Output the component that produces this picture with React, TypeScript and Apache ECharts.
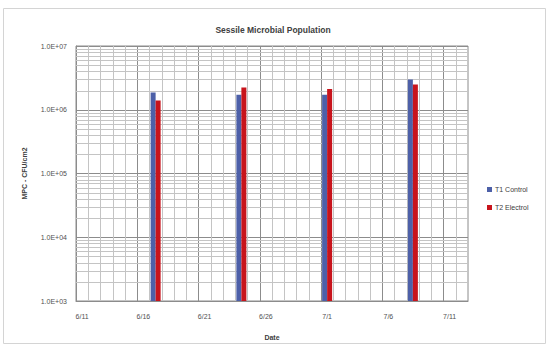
import React, { useEffect, useRef } from "react";
import * as echarts from "echarts";

const dayCategories = [
  "6/11", "6/12", "6/13", "6/14", "6/15", "6/16", "6/17", "6/18", "6/19", "6/20",
  "6/21", "6/22", "6/23", "6/24", "6/25", "6/26", "6/27", "6/28", "6/29", "6/30",
  "7/1", "7/2", "7/3", "7/4", "7/5", "7/6", "7/7", "7/8", "7/9", "7/10",
  "7/11", "7/12",
];
const sampleDates = ["6/17", "6/24", "7/1", "7/8"];
const controlValues = [1.87e6, 1.72e6, 1.72e6, 2.97e6];
const electrolValues = [1.4e6, 2.24e6, 2.12e6, 2.48e6];
const seriesNames = ["T1 Control", "T2 Electrol"];
const minorGridValues = [
  2e3, 3e3, 4e3, 5e3, 6e3, 7e3, 8e3, 9e3,
  2e4, 3e4, 4e4, 5e4, 6e4, 7e4, 8e4, 9e4,
  2e5, 3e5, 4e5, 5e5, 6e5, 7e5, 8e5, 9e5,
  2e6, 3e6, 4e6, 5e6, 6e6, 7e6, 8e6, 9e6,
];

const FONT = "Liberation Sans";

function toSeries(values: number[]) {
  return dayCategories.map((d) => {
    const i = sampleDates.indexOf(d);
    return i >= 0 ? values[i] : null;
  });
}

function fmtExp(v: number) {
  const e = Math.round(Math.log10(v));
  return "1.0E+" + (e < 10 ? "0" + e : String(e));
}

export default function App() {
  const ref = useRef<HTMLDivElement>(null);
  useEffect(() => {
    if (!ref.current) return;
    const chart = echarts.init(ref.current, undefined, { renderer: "svg" });
    chart.setOption({
      animation: false,
      backgroundColor: "#ffffff",
      title: {
        text: "Sessile Microbial Population",
        left: 268,
        textAlign: "center",
        top: 20,
        textStyle: { fontFamily: FONT, fontSize: 8.5, fontWeight: "bold", color: "#404040" },
      },
      graphic: [
        {
          type: "rect",
          shape: { x: 3.5, y: 8.5, width: 542, height: 335 },
          style: { fill: "none", stroke: "#d4d4d4", lineWidth: 1 },
          silent: true,
          z: -1,
        },
      ],
      legend: {
        orient: "vertical",
        left: 482,
        top: 181,
        icon: "rect",
        itemWidth: 5,
        itemHeight: 5,
        itemGap: 11,
        data: seriesNames,
        textStyle: { fontFamily: FONT, fontSize: 7, color: "#404040", padding: [0, 0, 0, -2] },
      },
      grid: {
        left: 76,
        top: 46,
        width: 392,
        height: 255,
        show: true,
        borderColor: "#8c8c8c",
        borderWidth: 1,
      },
      xAxis: {
        type: "category",
        data: dayCategories,
        boundaryGap: true,
        name: "Date",
        nameLocation: "middle",
        nameGap: 33,
        nameTextStyle: { fontFamily: FONT, fontSize: 7, fontWeight: "bold", color: "#404040" },
        axisLine: { show: true, lineStyle: { color: "#8c8c8c" } },
        axisTick: { show: false },
        axisLabel: {
          interval: 4,
          margin: 12,
          fontFamily: FONT,
          fontSize: 7,
          color: "#505050",
        },
        splitLine: {
          show: true,
          interval: 0,
          lineStyle: {
            color: ["#8c8c8c", "#c4c4c4", "#c4c4c4", "#c4c4c4", "#c4c4c4"],
            width: 1,
          },
        },
      },
      yAxis: {
        type: "log",
        logBase: 10,
        min: 1e3,
        max: 1e7,
        splitNumber: 4,
        name: "MPC - CFU/cm2",
        nameLocation: "middle",
        nameGap: 48,
        nameTextStyle: { fontFamily: FONT, fontSize: 7, fontWeight: "bold", color: "#404040" },
        axisLine: { show: true, lineStyle: { color: "#8c8c8c" } },
        axisTick: { show: false },
        axisLabel: {
          formatter: (v: number) => fmtExp(v),
          fontFamily: FONT,
          fontSize: 7,
          color: "#505050",
          margin: 9,
        },
        splitLine: { show: true, lineStyle: { color: "#8c8c8c", width: 1 } },
      },
      series: [
        {
          type: "custom",
          name: "minor",
          silent: true,
          z: 1,
          data: minorGridValues.map((v) => [0, v]),
          renderItem: (params: any, api: any) => {
            const pt = api.coord([0, api.value(1)]);
            const cs = params.coordSys;
            const y = Math.round(pt[1]) + 0.5;
            return {
              type: "line",
              shape: { x1: cs.x, y1: y, x2: cs.x + cs.width, y2: y },
              style: { stroke: "#c4c4c4", lineWidth: 1 },
            };
          },
          tooltip: { show: false },
        },
        {
          type: "bar",
          name: seriesNames[0],
          data: toSeries(controlValues),
          barWidth: 5,
          barGap: "0%",
          z: 3,
          itemStyle: { color: "#4d60a8" },
        },
        {
          type: "bar",
          name: seriesNames[1],
          data: toSeries(electrolValues),
          barWidth: 5,
          barGap: "0%",
          z: 3,
          itemStyle: { color: "#c8141c" },
        },
      ],
    });
    return () => chart.dispose();
  }, []);
  return (
    <div
      ref={ref}
      style={{ position: "fixed", left: 0, top: 0, width: 550, height: 349 }}
    />
  );
}
